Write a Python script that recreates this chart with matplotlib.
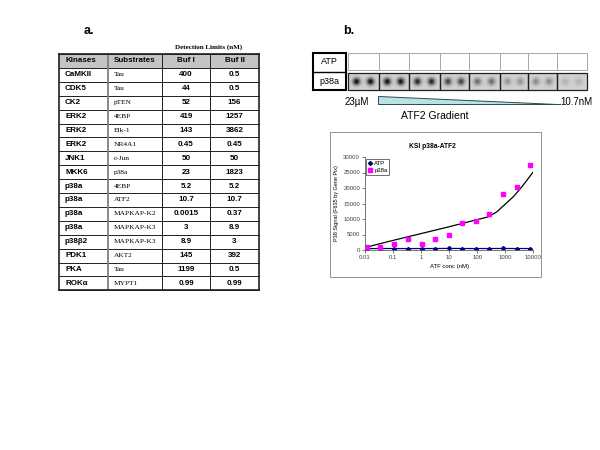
import numpy as np
import matplotlib
matplotlib.use("Agg")
import matplotlib.pyplot as plt
from matplotlib.patches import Rectangle, Polygon

plt.rcParams['font.family'] = ['Liberation Sans', 'DejaVu Sans']

# --- table data (panel a) ---
table_header = ["Kinases", "Substrates", "Buf I", "Buf II"]
kinases = ["CaMKII", "CDK5", "CK2", "ERK2", "ERK2", "ERK2", "JNK1", "MKK6",
           "p38a", "p38a", "p38a", "p38a", "p38β2", "PDK1", "PKA", "ROKα"]
substrates = ["Tau", "Tau", "pTEN", "4EBP", "Elk-1", "NR4A1", "c-Jun", "p38a",
              "4EBP", "ATF2", "MAPKAP-K2", "MAPKAP-K3", "MAPKAP-K3", "AKT2",
              "Tau", "MYPT1"]
buf1 = ["400", "44", "52", "419", "143", "0.45", "50", "23", "5.2", "10.7",
        "0.0015", "3", "8.9", "145", "1199", "0.99"]
buf2 = ["0.5", "0.5", "156", "1257", "3862", "0.45", "50", "1823", "5.2", "10.7",
        "0.37", "8.9", "3", "392", "0.5", "0.99"]

# --- blot spot darkness per cell (panel b, p38a row) ---
blot_rows = ["ATP", "p38a"]
spot_darkness = [0.95, 0.95, 0.85, 0.7, 0.5, 0.3, 0.35, 0.15]

# --- KSI chart data ---
atf_conc = [0.012, 0.034, 0.11, 0.33, 1.05, 3.2, 9.8, 29, 90, 270, 850, 2550, 7600]
p38a_sig = [1100, 1100, 1950, 3550, 2050, 3550, 4750, 8600, 9350, 11600, 18000, 20400, 27300]
atp_sig = [450, 480, 470, 460, 470, 480, 500, 480, 470, 480, 490, 480, 470]
fit_conc = [0.011, 0.1, 1, 10, 100, 250, 500, 1000, 2000, 4000, 10000]
fit_sig = [900, 3100, 5300, 7500, 9800, 10700, 12300, 14800, 17300, 20500, 25200]

fig = plt.figure(figsize=(6, 4.5), dpi=100)
ov = fig.add_axes([0, 0, 1, 1])
ov.axis('off')

# panel letters
ov.text(89, 31, "a.", fontsize=9, fontweight='bold', ha='center', va='center')
ov.text(349, 31, "b.", fontsize=9, fontweight='bold', ha='center', va='center')

# --- table ---
col_x = [59, 108, 162, 210, 259]
top = 54
rh = 13.9
nrows = len(kinases) + 1
bottom = top + nrows * rh
ov.text(209, 47, "Detection Limits (nM)", fontsize=5, fontweight='bold',
        family=['Liberation Serif'], ha='center', va='center')
ov.add_patch(Rectangle((col_x[0], top), col_x[-1] - col_x[0], rh,
                       facecolor='#c4c4c4', edgecolor='none'))
for i in range(nrows + 1):
    ov.plot([col_x[0], col_x[-1]], [top + i * rh] * 2, color='#202020', lw=0.7)
for j, x in enumerate(col_x):
    lw = 1.2 if j in (0, 4) else 0.7
    c = '#808080' if j == 1 else '#202020'
    ov.plot([x, x], [top, bottom], color=c, lw=lw if j != 1 else 1.3)
ov.plot([col_x[0], col_x[-1]], [top, top], color='#202020', lw=1.2)
ov.plot([col_x[0], col_x[-1]], [bottom, bottom], color='#202020', lw=1.2)

yc = top + rh / 2
ov.text(65, yc, table_header[0], fontsize=5.8, fontweight='bold', va='center')
ov.text(114, yc, table_header[1], fontsize=5.8, fontweight='bold', va='center')
ov.text((col_x[2] + col_x[3]) / 2, yc, table_header[2], fontsize=5.8,
        fontweight='bold', ha='center', va='center')
ov.text((col_x[3] + col_x[4]) / 2, yc, table_header[3], fontsize=5.8,
        fontweight='bold', ha='center', va='center')
for i in range(len(kinases)):
    yc = top + (i + 1.5) * rh
    ov.text(65, yc, kinases[i], fontsize=5.8, fontweight='bold', va='center')
    ov.text(114, yc, substrates[i], fontsize=5.3, family=['Liberation Serif'],
            va='center')
    ov.text((col_x[2] + col_x[3]) / 2, yc, buf1[i], fontsize=5.8,
            fontweight='bold', ha='center', va='center')
    ov.text((col_x[3] + col_x[4]) / 2, yc, buf2[i], fontsize=5.8,
            fontweight='bold', ha='center', va='center')

# --- blot ---
cell_x = [348, 379, 409, 440, 469, 500, 528, 557, 587]
row_y = [(53, 70), (73, 90)]
ov.add_patch(Rectangle((313, 52.5), 33, 37, facecolor='none', edgecolor='black', lw=1.5))
ov.plot([313, 346], [71.5, 71.5], color='black', lw=1.0)
ov.text(329.5, 62, blot_rows[0], fontsize=6.5, ha='center', va='center')
ov.text(329.5, 81, blot_rows[1], fontsize=6.5, ha='center', va='center')

for k in range(len(cell_x) - 1):
    x0, x1 = cell_x[k], cell_x[k + 1]
    y0, y1 = row_y[0]
    ov.add_patch(Rectangle((x0, y0), x1 - x0, y1 - y0, facecolor='white',
                           edgecolor='#a8a8a8', lw=0.7))
    # spots
    y0, y1 = row_y[1]
    w, h = x1 - x0, y1 - y0
    xx, yy = np.meshgrid(np.linspace(0, w, 60), np.linspace(0, h, 36))
    g = np.zeros_like(xx)
    for cx in (0.27 * w, 0.73 * w):
        g += np.exp(-((xx - cx) ** 2 + (yy - h / 2) ** 2) / (2 * 2.6 ** 2))
    img = 0.82 * (1 - spot_darkness[k] * np.clip(g, 0, 1))
    ov.imshow(img, cmap='gray', vmin=0, vmax=1, extent=(x0, x1, y1, y0),
              aspect='auto', interpolation='bilinear', zorder=1)
    ov.add_patch(Rectangle((x0, y0), w, h, facecolor='none',
                           edgecolor='#202020', lw=0.9, zorder=2))

# gradient wedge
ov.add_patch(Polygon([(378, 96), (378, 103.5), (557, 103.5)], closed=True,
                     facecolor='#b8e2e4', edgecolor='#2a4a4a', lw=0.7))
ov.plot([557, 560], [103.5, 103.5], color='#2a4a4a', lw=0.7)
ov.text(345, 102, "23µM", fontsize=7, va='center', ha='left')
ov.text(560, 102, "10.7nM", fontsize=7, va='center', ha='left')
ov.text(435, 116, "ATF2 Gradient", fontsize=7.5, va='center', ha='center')

# chart box
ov.add_patch(Rectangle((330, 132), 211, 145, facecolor='none', edgecolor='#909090', lw=0.7))
ov.text(432, 146, "KSI p38a-ATF2", fontsize=4.8, fontweight='bold', ha='center', va='center')
ov.set_xlim(0, 600)
ov.set_ylim(450, 0)

# --- KSI chart ---
ax = fig.add_axes([365 / 600, 1 - 250 / 450, 168.3 / 600, 93 / 450])
ax.patch.set_alpha(0)
ax.set_xscale('log')
ax.plot(fit_conc, fit_sig, color='black', lw=0.9)
ax.plot(atf_conc, atp_sig, color='#000080', lw=0.9, marker='D', markersize=2,
        label='ATP')
ax.plot(atf_conc, p38a_sig, linestyle='none', color='#ff00ff', marker='s',
        markersize=2.6, label='p38a')
ax.set_xlim(0.01, 10000)
ax.set_ylim(0, 30000)
ax.set_xticks([0.01, 0.1, 1, 10, 100, 1000, 10000])
ax.set_xticklabels(["0.01", "0.1", "1", "10", "100", "1000", "10000"])
ax.xaxis.set_minor_locator(matplotlib.ticker.NullLocator())
ax.set_yticks(range(0, 30001, 5000))
ax.tick_params(labelsize=4.3, length=2, width=0.5, pad=1.5, colors='#404040')
for s in ['top', 'right']:
    ax.spines[s].set_visible(False)
for s in ['left', 'bottom']:
    ax.spines[s].set_linewidth(0.6)
    ax.spines[s].set_color('#606060')
ax.set_xlabel("ATF conc (nM)", fontsize=4.3, labelpad=3)
ax.set_ylabel("P38 Signal (F635 by Gene Pix)", fontsize=4, labelpad=3)
leg = ax.legend(loc='upper left', bbox_to_anchor=(0.005, 0.98), fontsize=4.3,
                frameon=True, fancybox=False, handlelength=0.8, handletextpad=0.3,
                borderpad=0.3, labelspacing=0.3, borderaxespad=0)
leg.get_frame().set_edgecolor('black')
leg.get_frame().set_linewidth(0.5)

fig.savefig("out.png", dpi=100)
